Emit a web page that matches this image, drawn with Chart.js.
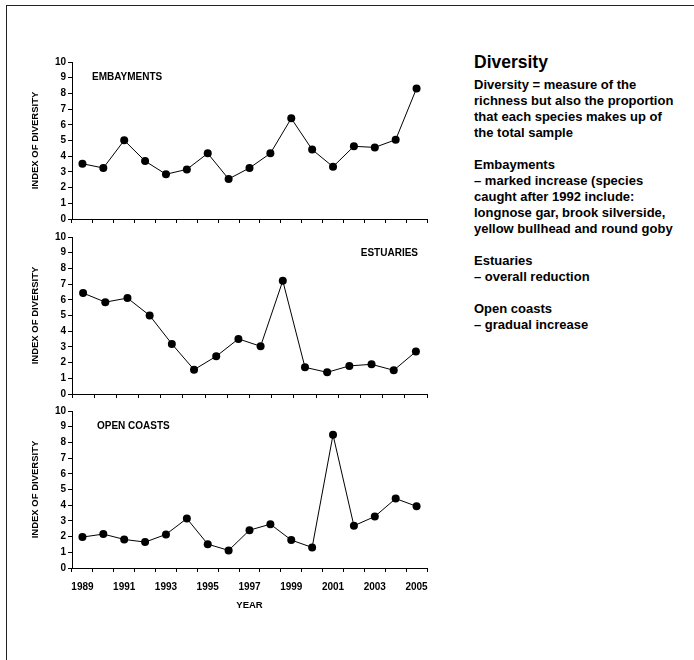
<!DOCTYPE html>
<html>
<head>
<meta charset="utf-8">
<script src="https://cdn.jsdelivr.net/npm/chart.js@4"></script>
<style>
  body { margin: 0; background: #fff; font-family: "Liberation Sans", Arial, sans-serif; }
  #frame { position: absolute; left: 6px; top: 5px; width: 800px; height: 800px; border: 1.5px solid #222; }
  .panel { position: absolute; left: 20px; width: 420px; }
  .tag { position: absolute; font-weight: bold; font-size: 10px; line-height: 12px; color: #000; white-space: nowrap; }
  #notes { position: absolute; left: 474px; top: 52px; font-weight: bold; font-size: 13px; line-height: 16px; color: #000; white-space: nowrap; }
  #notes h1 { font-size: 17.5px; margin: 0 0 5px 0; line-height: 20px; }
  #notes p { margin: 0 0 16px 0; }
</style>
</head>
<body>
<div id="frame"></div>

<div class="panel" style="top:50px;height:180px"><canvas id="embay"></canvas></div>
<div class="panel" style="top:225px;height:180px"><canvas id="estu"></canvas></div>
<div class="panel" style="top:399px;height:213px"><canvas id="coast"></canvas></div>

<div class="tag" style="left:92px;top:71px">EMBAYMENTS</div>
<div class="tag" style="left:300px;width:118px;text-align:right;top:247px">ESTUARIES</div>
<div class="tag" style="left:97px;top:420px">OPEN COASTS</div>

<div id="notes">
  <h1>Diversity</h1>
  <p>Diversity = measure of the<br>richness but also the proportion<br>that each species makes up of<br>the total sample</p>
  <p>Embayments<br>– marked increase (species<br>caught after 1992 include:<br>longnose gar, brook silverside,<br>yellow bullhead and round goby</p>
  <p>Estuaries<br>– overall reduction</p>
  <p>Open coasts<br>– gradual increase</p>
</div>

<script>
const years = ["1989", "1990", "1991", "1992", "1993", "1994", "1995", "1996", "1997",
	"1998", "1999", "2000", "2001", "2002", "2003", "2004", "2005"];
// estuaries panel only has 16 points
const estuaryYears = years.slice(1);

const embayments = [3.52, 3.25, 5.01, 3.69, 2.85, 3.16, 4.18, 2.55, 3.25, 4.18, 6.41, 4.42, 3.33, 4.63, 4.56, 5.05, 8.32];
const estuaries = [6.43, 5.85, 6.11, 5.0, 3.19, 1.55, 2.4, 3.51, 3.04, 7.21, 1.7, 1.38, 1.79, 1.89, 1.51, 2.7];
const openCoasts = [1.97, 2.16, 1.82, 1.65, 2.14, 3.15, 1.52, 1.12, 2.41, 2.79, 1.78, 1.31, 8.48, 2.69, 3.28, 4.42, 3.93];

const yTicks = [0, 1, 2, 3, 4, 5, 6, 7, 8, 9, 10];

const family = "'Liberation Sans', Arial, sans-serif";
const tickFont = { family: family, size: 10, weight: "bold" };
const titleFont = { family: family, size: 9.5, weight: "bold" };

const makeChart = (id, labels, values, showYears) => {
	const ctx = document.getElementById(id).getContext("2d");
	return new Chart(ctx, {
		type: "line",
		data: {
			labels: labels,
			datasets: [
				{
					data: values,
					borderColor: "#000",
					borderWidth: 1,
					backgroundColor: "#000",
					pointRadius: 4,
					pointBorderWidth: 0,
					tension: 0,
				},
			],
		},
		options: {
			responsive: true,
			maintainAspectRatio: false,
			animation: false,
			layout: { padding: { top: 12, right: 13, left: 0, bottom: 0 } },
			scales: {
				x: {
					type: "category",
					offset: true,
					border: { color: "#000", width: 1 },
					grid: { offset: true, drawOnChartArea: false, tickLength: 4, color: "#000" },
					ticks: {
						display: showYears,
						autoSkip: false,
						maxRotation: 0,
						padding: 9,
						color: "#000",
						font: tickFont,
						callback: (v, i) => (i % 2 === 0 ? labels[i] : ""),
					},
					title: {
						display: showYears,
						text: "YEAR",
						color: "#000",
						font: titleFont,
						padding: { top: 0, bottom: 0.5 },
					},
					afterFit: (axis) => {
						axis.height = showYears ? 44 : 11;
					},
				},
				y: {
					min: 0,
					max: 10,
					border: { color: "#000", width: 1 },
					grid: { drawOnChartArea: false, tickLength: 4, color: "#000" },
					afterBuildTicks: (axis) => {
						axis.ticks = yTicks.map((v) => ({ value: v }));
					},
					ticks: { padding: 2, color: "#000", font: tickFont },
					title: {
						display: true,
						text: "INDEX OF DIVERSITY",
						color: "#000",
						font: titleFont,
						padding: { top: 10, bottom: 0 },
					},
					afterFit: (axis) => {
						axis.width = 52;
					},
				},
			},
			plugins: {
				legend: { display: false },
				tooltip: { enabled: false },
			},
		},
	});
};

makeChart("embay", years, embayments, false);
makeChart("estu", estuaryYears, estuaries, false);
makeChart("coast", years, openCoasts, true);
</script>
</body>
</html>
